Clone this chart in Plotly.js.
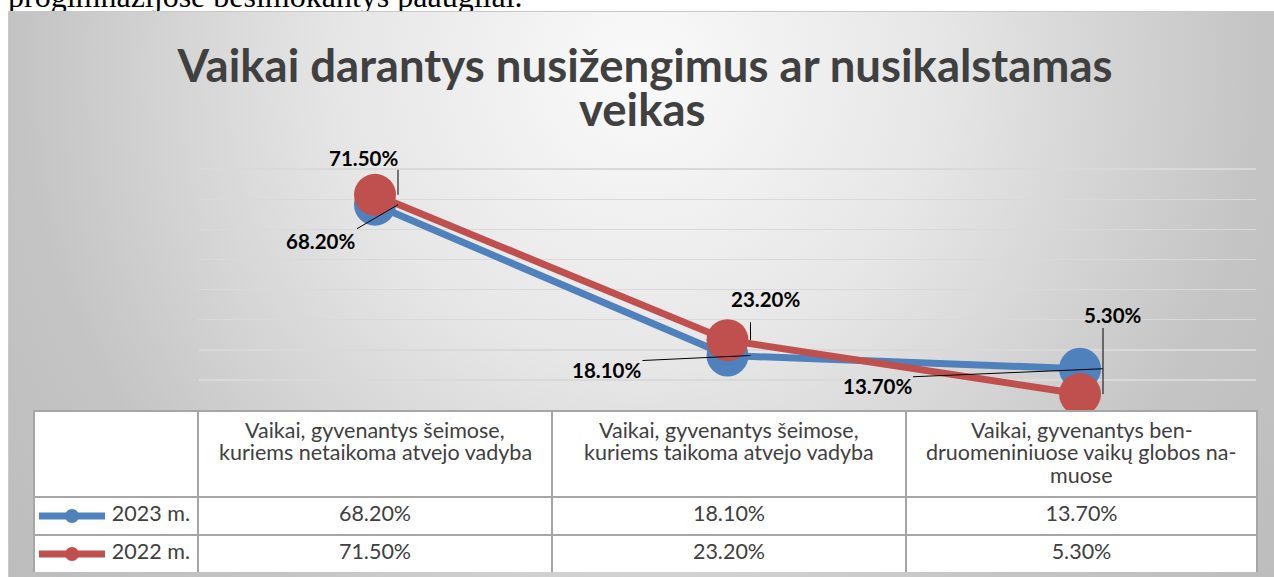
<!DOCTYPE html>
<html>
<head>
<meta charset="utf-8">
<script src="https://cdn.plot.ly/plotly-3.0.1.min.js"></script>
<style>
  html, body { margin: 0; padding: 0; background: #ffffff; }
  #wrap { position: relative; width: 1274px; height: 577px; overflow: hidden; background: #ffffff; }
  #doctext { position: absolute; left: 0; top: 0; width: 1274px; height: 11px; overflow: hidden; }
  #doctext span { position: absolute; left: 8px; top: -20px; font-family: "Liberation Serif", "DejaVu Serif", serif; font-size: 32px; line-height: 32px; color: #000; white-space: nowrap; }
  #bg { position: absolute; left: 8px; top: 11px; width: 1266px; height: 566px; box-sizing: border-box;
        border-top: 1px solid #c8c8c8; border-left: 1px solid #c8c8c8;
        background: radial-gradient(circle at 632px 60px, #fafafa 0px, #e6e6e6 300px, #c4c4c4 620px, #bdbdbd 800px); }
  #chart { position: absolute; left: 0; top: 0; width: 1274px; height: 577px; }
</style>
</head>
<body>
<div id="wrap">
  <div id="doctext"><span>progimnazijose besimokantys paaugliai.</span></div>
  <div id="bg"></div>
  <div id="chart"></div>
</div>
<script>
// ---- data ----
const titleLine1 = "Vaikai darantys nusižengimus ar nusikalstamas";
const titleLine2 = "veikas";
const categories = [
  "Vaikai, gyvenantys šeimose, kuriems netaikoma atvejo vadyba",
  "Vaikai, gyvenantys šeimose, kuriems taikoma atvejo vadyba",
  "Vaikai, gyvenantys bendruomeniniuose vaikų globos namuose"
];
const categoryLabels = [
  "Vaikai, gyvenantys šeimose,<br>kuriems netaikoma atvejo vadyba",
  "Vaikai, gyvenantys šeimose,<br>kuriems taikoma atvejo vadyba",
  "Vaikai, gyvenantys ben-<br>druomeniniuose vaikų globos na-<br>muose"
];
const seriesNames = ["2023 m.", "2022 m."];
const values2023 = [68.2, 18.1, 13.7];
const values2022 = [71.5, 23.2, 5.3];

// ---- styles / layout constants ----
const W = 1274, H = 577;
const colors = ["#4F81BD", "#C0504D"];
const PLOT_L = 198.75, PLOT_R = 1256.25, PLOT_B = 410, PX_PER_UNIT = 3.01, Y_MAX = 80.5;
const PLOT_T = PLOT_B - Y_MAX * PX_PER_UNIT;
const TABLE_L = 34, TABLE_R = 1257, TABLE_T = 411, HEADER_H = 86, ROW_H = 38;
const colWidths = [164, 354, 354, 351];
const MARKER = 42, LINE_W = 7, LEADER_X = 23;
const TABLE_FONT = 21.5;
const HEADER_BASE0 = 438, HEADER_LINE = 22.5;
const labelFont = { family: "Lato, 'Open Sans', sans-serif", size: 20.5, color: "#000000", weight: 700 };
const titleFont = { family: "Lato, sans-serif", size: 45.5, color: "#404040", weight: 700 };
const tableFont = { family: "Lato, sans-serif", size: TABLE_FONT, color: "#404040" };

// label placement (pixel offsets from point centre, screen-down positive) and leader starts
const labelPos = [
  [[-55, 36], [-121, 14.5], [-203, 17]],   // 2023
  [[-12, -36.5], [38, -41], [33, -79]]     // 2022
];
const leaderStart = [
  [[-18, 24], [-85, 5], [-167, 8]],
  [[LEADER_X, -25], [LEADER_X, -18], [LEADER_X, -66]]
];

const seriesValues = [values2023, values2022];
const fmt = v => v.toFixed(2) + "%";

const traces = seriesValues.map((vals, s) => ({
  type: "scatter",
  mode: "lines+markers",
  name: seriesNames[s],
  x: categories,
  y: vals,
  line: { color: colors[s], width: LINE_W },
  marker: { color: colors[s], size: MARKER, symbol: "circle" },
  cliponaxis: true,
  showlegend: false,
  hoverinfo: "skip"
}));

// data table (header text drawn as centred annotations below)
const tableTrace = {
  type: "table",
  domain: { x: [TABLE_L / W, TABLE_R / W], y: [1 - (TABLE_T + HEADER_H + 2 * ROW_H) / H, 1 - TABLE_T / H] },
  columnwidth: colWidths,
  header: {
    values: ["", "", "", ""],
    height: HEADER_H,
    fill: { color: "#ffffff" },
    line: { color: "#a6a6a6", width: 1.5 },
    font: tableFont
  },
  cells: {
    values: [seriesNames].concat(categories.map((c, j) => seriesValues.map(v => fmt(v[j])))),
    align: ["right", "center", "center", "center"],
    height: ROW_H,
    fill: { color: "#ffffff" },
    line: { color: "#a6a6a6", width: 1.5 },
    font: tableFont
  },
  hoverinfo: "skip"
};

const annotations = [];

// header labels: one centred annotation per wrapped line
const totalW = colWidths.reduce((a, b) => a + b, 0);
const tableWpx = TABLE_R - TABLE_L;
let edge = TABLE_L;
const colCenters = colWidths.map(w => { const px = w / totalW * tableWpx; const c = edge + px / 2; edge += px; return c; });
categoryLabels.forEach((lab, j) => {
  lab.split("<br>").forEach((line, k) => {
    const baseline = HEADER_BASE0 + k * HEADER_LINE;
    annotations.push({
      xref: "paper", yref: "paper",
      x: colCenters[j + 1] / W, y: 1 - (baseline - 0.387 * TABLE_FONT) / H,
      text: line, showarrow: false, xanchor: "center", yanchor: "middle",
      font: tableFont
    });
  });
});

// data labels
seriesValues.forEach((vals, s) => {
  vals.forEach((v, j) => {
    annotations.push({
      xref: "x", yref: "y", x: j, y: v,
      text: fmt(v), showarrow: false,
      xanchor: "center", yanchor: "middle",
      xshift: labelPos[s][j][0], yshift: -labelPos[s][j][1],
      font: labelFont
    });
  });
});
annotations.push({
  xref: "paper", yref: "paper", x: 642 / W, y: 1 - 108.5 / H,
  text: titleLine2, showarrow: false, xanchor: "center", yanchor: "middle",
  font: titleFont
});

// leader lines
const shapes = [];
seriesValues.forEach((vals, s) => {
  vals.forEach((v, j) => {
    shapes.push({
      type: "line", xref: "x", yref: "y",
      xsizemode: "pixel", ysizemode: "pixel",
      xanchor: j, yanchor: v,
      x0: leaderStart[s][j][0], y0: -leaderStart[s][j][1],
      x1: LEADER_X, y1: 0,
      line: { color: "#000000", width: 1 }
    });
  });
});

// legend keys inside the table's first column
seriesNames.forEach((n, s) => {
  const cy = 1 - (TABLE_T + HEADER_H + ROW_H * s + ROW_H / 2) / H;
  shapes.push({
    type: "line", xref: "paper", yref: "paper",
    x0: 39 / W, x1: 105 / W, y0: cy, y1: cy,
    line: { color: colors[s], width: 7 }
  });
  shapes.push({
    type: "circle", xref: "paper", yref: "paper",
    xsizemode: "pixel", ysizemode: "pixel", xanchor: 72 / W, yanchor: cy,
    x0: -7, x1: 7, y0: -7, y1: 7,
    fillcolor: colors[s], line: { width: 0 }
  });
});

const layout = {
  width: W, height: H,
  margin: { l: 0, r: 0, t: 0, b: 0 },
  paper_bgcolor: "rgba(0,0,0,0)",
  plot_bgcolor: "rgba(0,0,0,0)",
  title: {
    text: titleLine1,
    x: 645 / W, xanchor: "center", xref: "paper",
    y: 1 - 66 / H, yanchor: "middle", yref: "container",
    font: titleFont
  },
  xaxis: {
    type: "category", range: [-0.5, 2.5],
    domain: [PLOT_L / W, PLOT_R / W],
    showticklabels: false, showgrid: false, ticks: "",
    showline: true, linecolor: "#8c8c8c", linewidth: 2,
    zeroline: false, fixedrange: true
  },
  yaxis: {
    range: [0, Y_MAX],
    domain: [1 - PLOT_B / H, 1 - PLOT_T / H],
    dtick: 10, tick0: 0,
    showticklabels: false, ticks: "",
    showgrid: true, gridcolor: "#d9d9d9", gridwidth: 1.5,
    zeroline: false, showline: false, fixedrange: true
  },
  annotations: annotations,
  shapes: shapes,
  showlegend: false
};

Plotly.newPlot("chart", traces.concat([tableTrace]), layout, { displayModeBar: false, staticPlot: true });
</script>
</body>
</html>
